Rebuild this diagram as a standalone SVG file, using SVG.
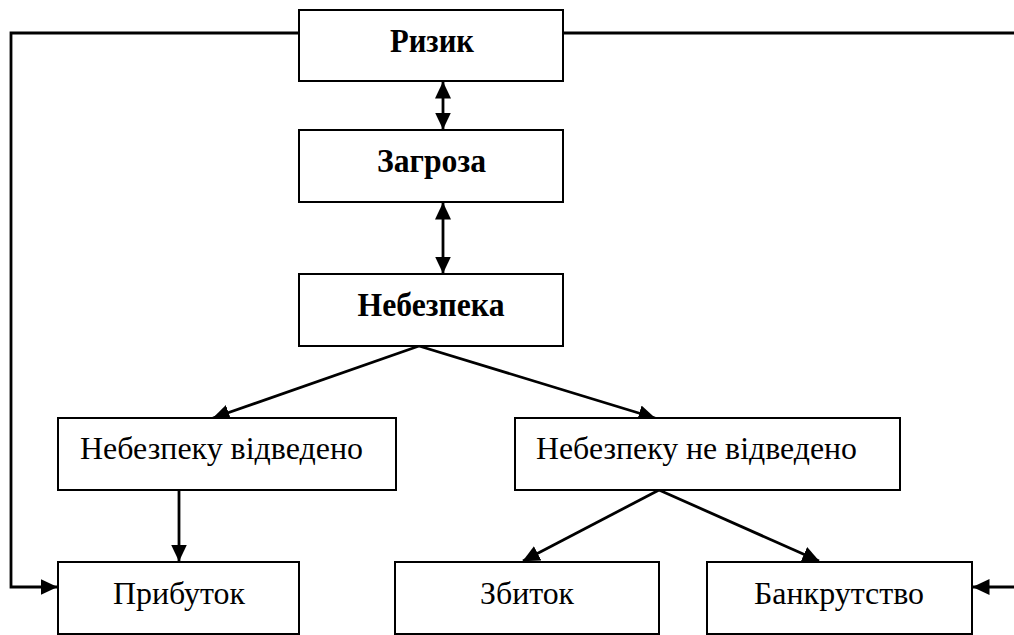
<svg xmlns="http://www.w3.org/2000/svg" width="1014" height="635" viewBox="0 0 1014 635">
  <style>
    .box { fill: #ffffff; stroke: #000000; stroke-width: 2; }
    .lbl { font-family: "Liberation Serif", "Times New Roman", serif; font-size: 31px; fill: #000000; }
    .bold { font-weight: bold; font-size: 34px; text-anchor: middle; }
    .mid { text-anchor: middle; }
    .link { fill: none; stroke: #000000; stroke-width: 2.8; }
  </style>
  <defs>
    <marker id="arrow" viewBox="0 0 17 16" refX="16.5" refY="8" markerWidth="17" markerHeight="16" markerUnits="userSpaceOnUse" orient="auto-start-reverse">
      <path d="M0,0 L17,8 L0,16 Z" fill="#000000"/>
    </marker>
  </defs>

  <!-- connectors -->
  <g id="connectors">
    <path class="link" d="M443,82 V129" marker-start="url(#arrow)" marker-end="url(#arrow)"/>
    <path class="link" d="M443,203 V273" marker-start="url(#arrow)" marker-end="url(#arrow)"/>
    <path class="link" d="M419,346 L213,418" marker-end="url(#arrow)"/>
    <path class="link" d="M419,346 L655,418" marker-end="url(#arrow)"/>
    <path class="link" d="M179,490 V561" marker-end="url(#arrow)"/>
    <path class="link" d="M659,490 L523,561" marker-end="url(#arrow)"/>
    <path class="link" d="M659,490 L819,561" marker-end="url(#arrow)"/>
    <path class="link" d="M299,33 H11 V587 H57" marker-end="url(#arrow)"/>
    <path class="link" d="M563,33 H1020 V587 H973" marker-end="url(#arrow)"/>
  </g>

  <g id="risk">
    <rect class="box" x="299" y="10" width="264" height="71"/>
    <text class="lbl bold" x="432" y="52" textLength="84" lengthAdjust="spacingAndGlyphs">Ризик</text>
  </g>
  <g id="threat">
    <rect class="box" x="299" y="130" width="264" height="72"/>
    <text class="lbl bold" x="431.5" y="172" textLength="109" lengthAdjust="spacingAndGlyphs">Загроза</text>
  </g>
  <g id="danger">
    <rect class="box" x="299" y="274" width="264" height="72"/>
    <text class="lbl bold" x="431" y="316" textLength="147" lengthAdjust="spacingAndGlyphs">Небезпека</text>
  </g>
  <g id="averted">
    <rect class="box" x="58" y="418" width="338" height="72"/>
    <text class="lbl" x="80" y="459" textLength="283" lengthAdjust="spacingAndGlyphs">Небезпеку відведено</text>
  </g>
  <g id="not-averted">
    <rect class="box" x="515" y="418" width="385" height="72"/>
    <text class="lbl" x="536" y="459" textLength="321" lengthAdjust="spacingAndGlyphs">Небезпеку не відведено</text>
  </g>
  <g id="profit">
    <rect class="box" x="58" y="562" width="241" height="72"/>
    <text class="lbl mid" x="179" y="604" textLength="132" lengthAdjust="spacingAndGlyphs">Прибуток</text>
  </g>
  <g id="loss">
    <rect class="box" x="395" y="562" width="264" height="72"/>
    <text class="lbl mid" x="527" y="604" textLength="94" lengthAdjust="spacingAndGlyphs">Збиток</text>
  </g>
  <g id="bankruptcy">
    <rect class="box" x="707" y="562" width="265" height="72"/>
    <text class="lbl mid" x="839" y="604" textLength="170" lengthAdjust="spacingAndGlyphs">Банкрутство</text>
  </g>
</svg>
